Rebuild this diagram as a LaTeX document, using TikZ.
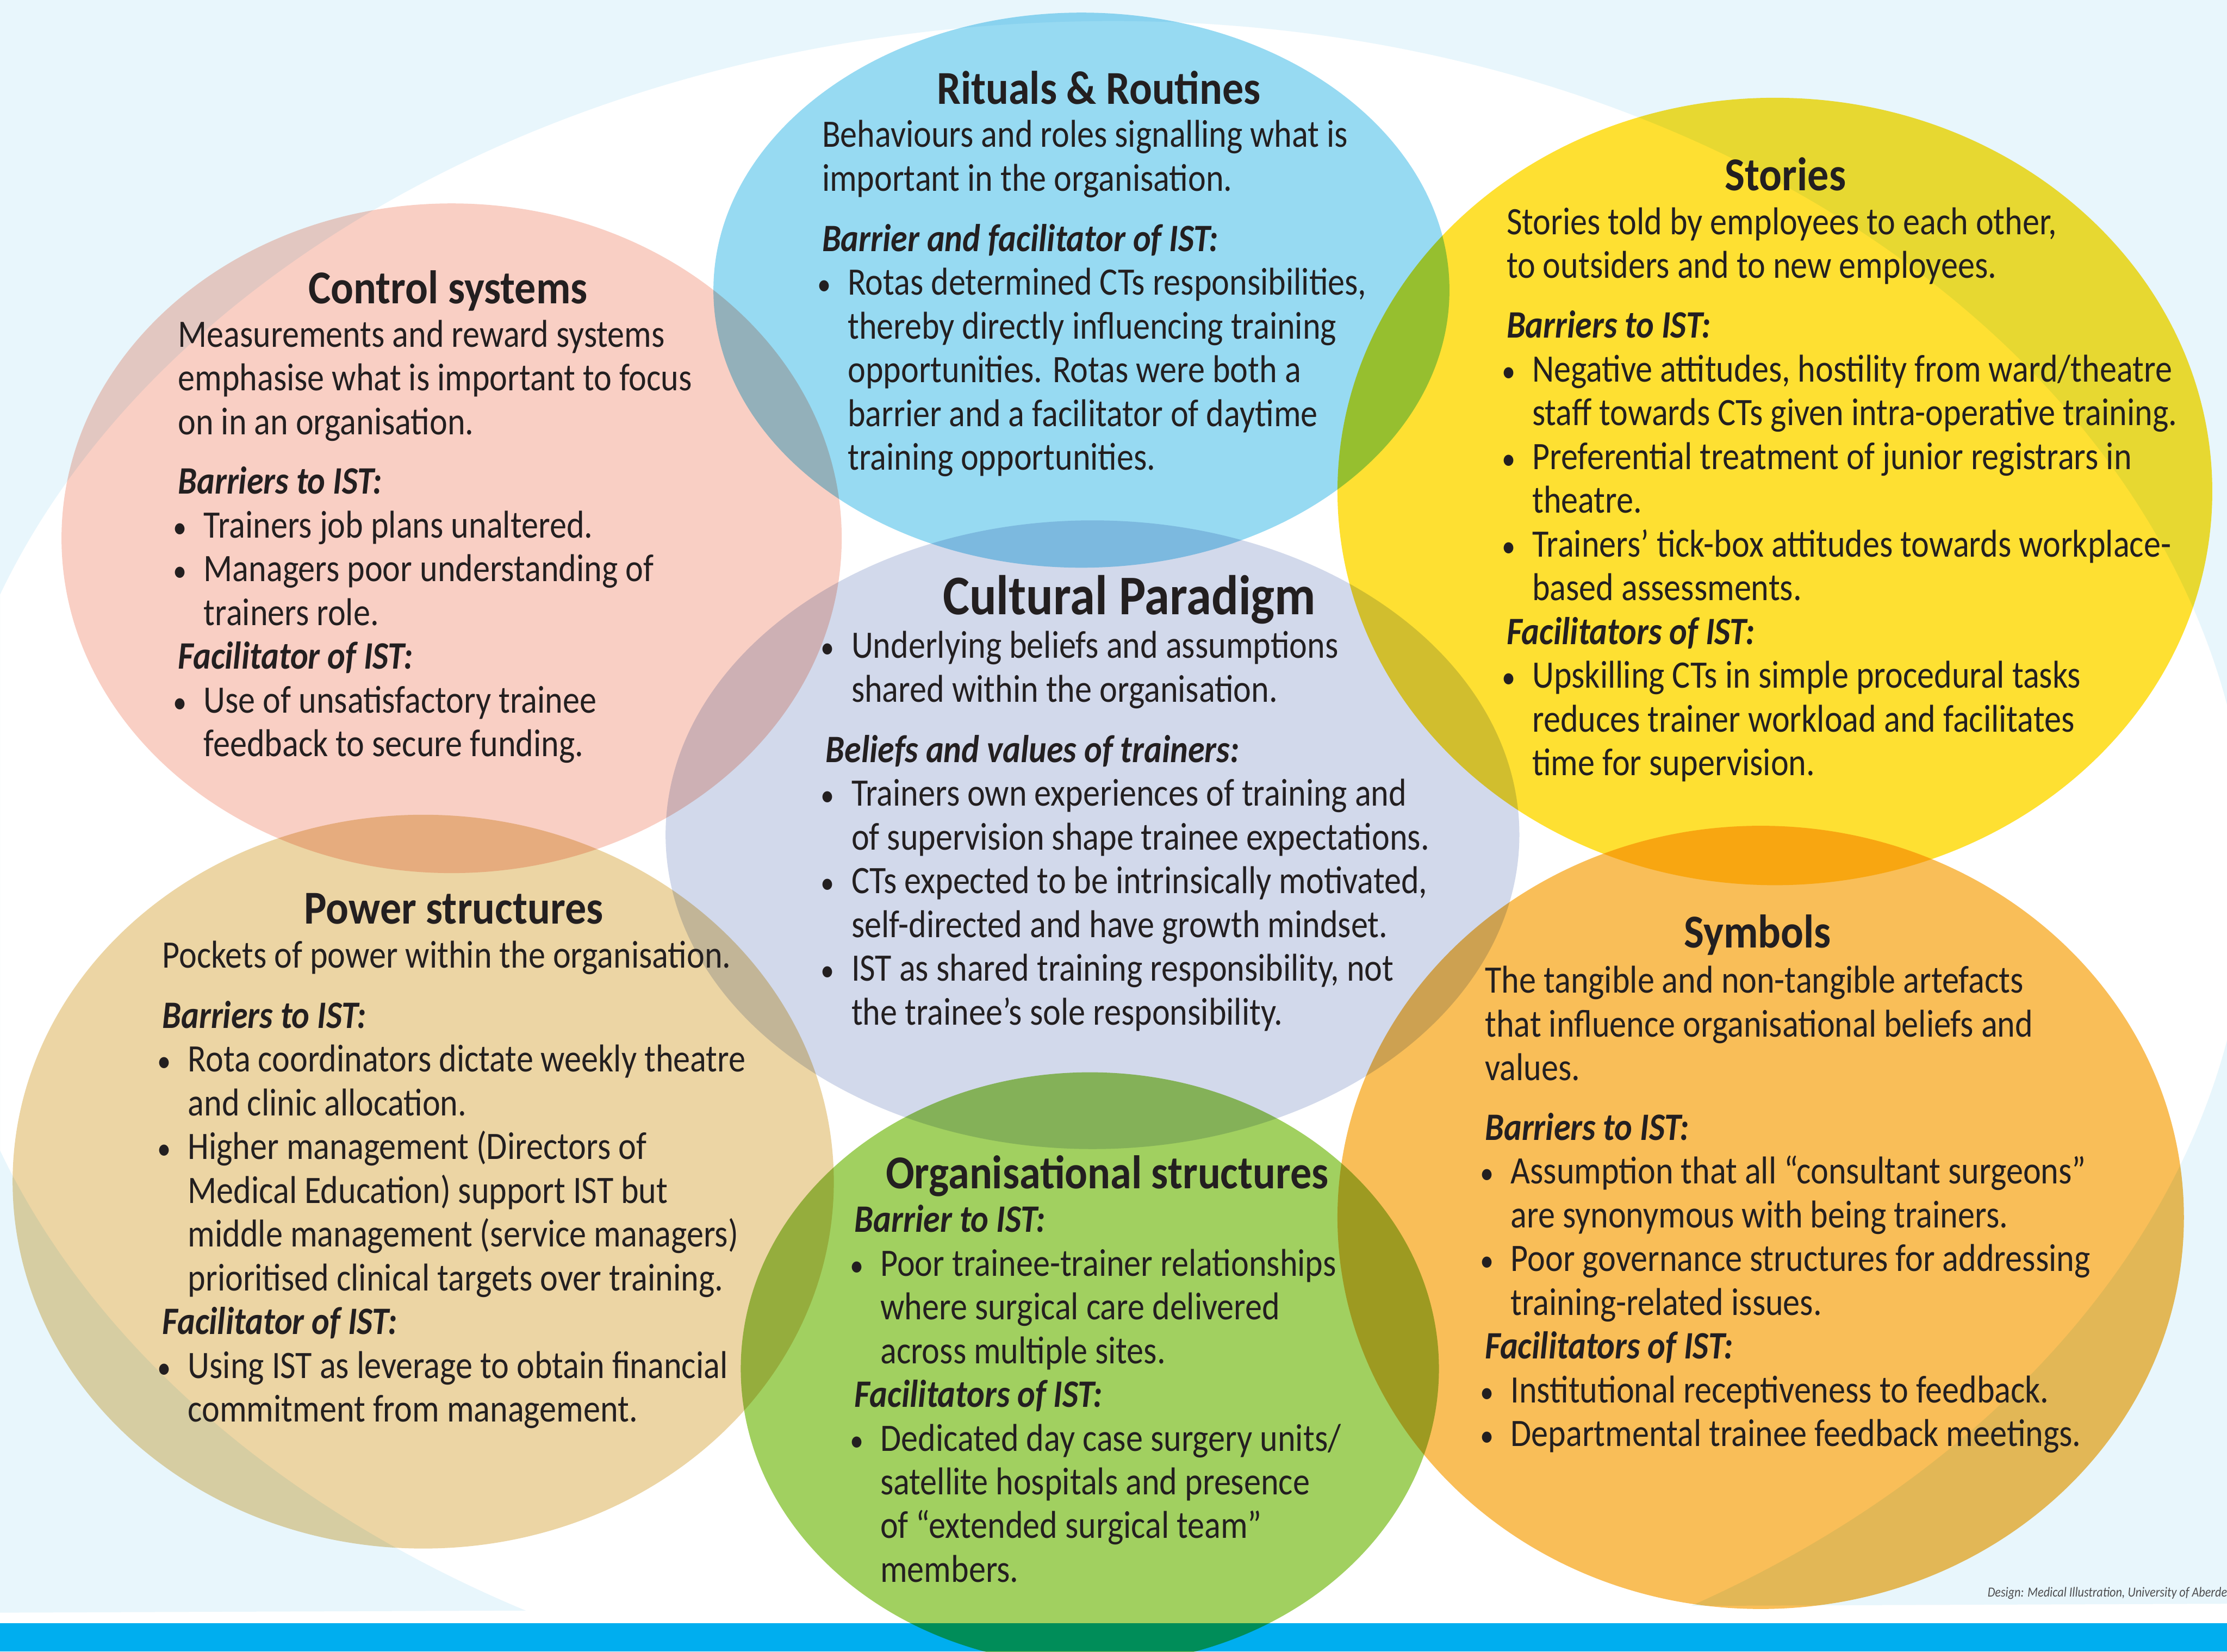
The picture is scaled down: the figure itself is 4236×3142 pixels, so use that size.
\documentclass[tikz,border=0pt]{standalone}
\usepackage{fontspec}
\setmainfont{Carlito}
\newfontfamily\bodyf[FakeStretch=0.87]{Carlito}
\newfontfamily\headf[FakeStretch=0.9]{Carlito}

\definecolor{lightbg}{HTML}{E8F6FC}
\definecolor{barblue}{HTML}{00AEEF}
\definecolor{ink}{HTML}{231F20}
\definecolor{creditgrey}{HTML}{4D4D4F}
\definecolor{pinkc}{HTML}{F9CFC4}
\definecolor{bluec}{HTML}{97DAF2}
\definecolor{lavc}{HTML}{D2D9EB}
\definecolor{yelc}{HTML}{FEE032}
\definecolor{tanc}{HTML}{ECD5A4}
\definecolor{orac}{HTML}{F9BE58}
\definecolor{grnc}{HTML}{A1D060}

% bullet geometry
\newlength\bulw \setlength\bulw{13.9pt}
\newlength\bulo \setlength\bulo{-2.6pt}
\newcommand\bul{\makebox[\bulw][l]{\hspace*{\bulo}{\fontsize{17}{17}\selectfont •}}}
\newcommand\cont{\hspace*{\bulw}}
\newcommand\subh[1]{{\bfseries\itshape #1}}
% stack of left-aligned lines, baseline on the first line
\newcommand\blines[1]{\vtop{\halign{##\hfil\cr#1\crcr}}}

\tikzset{
  body/.style={inner sep=0pt, anchor=base west, text=ink,
    font=\bodyf\fontsize{21}{23.67}\selectfont},
  ttl/.style={inner sep=0pt, anchor=base, text=ink,
    font=\headf\bfseries\fontsize{25.5}{28}\selectfont},
  bigttl/.style={ttl, font=\headf\bfseries\fontsize{30.3}{33}\selectfont},
  credit/.style={inner sep=0pt, anchor=base west, text=creditgrey,
    font=\bodyf\itshape\fontsize{7.5}{8.5}\selectfont}
}

\begin{document}
\begin{tikzpicture}[x=0.01cm, y=-0.01cm]
\useasboundingbox (0,0) rectangle (4236,3142);

% page background
\fill[white] (0,0) rectangle (4236,3142);
\begin{scope}
  \clip (0,0) -- (4236,0) -- (4236,3051) -- (0,3068) -- cycle;
  \fill[lightbg, even odd rule] (0,0) rectangle (4236,3142)
    (2118,40) arc[start angle=-90, end angle=90, x radius=2160, y radius=1620]
              arc[start angle=90, end angle=270, x radius=2240, y radius=1620] -- cycle;
\end{scope}
\fill[barblue] (0,3088) rectangle (4236,3142);

% overlapping elements of the cultural web
\begin{scope}[blend mode=multiply]
  \fill[pinkc] (859,1024) ellipse [x radius=742, y radius=637];
  \fill[bluec] (2057,552) ellipse [x radius=700, y radius=528];
  \fill[yelc]  (3376,935) ellipse [x radius=832, y radius=749];
  \fill[lavc]  (2078,1588) ellipse [x radius=812, y radius=598];
  \fill[tanc]  (805,2248) ellipse [x radius=781, y radius=698];
  \fill[orac]  (3349,2316) ellipse [x radius=805, y radius=745];
  \fill[grnc]  (2073,2604) ellipse [x radius=664, y radius=564];
\end{scope}

% Rituals & Routines
\node[ttl] (rit-t) at (2090,198) {Rituals \& Routines};
\node[body] (rit-d) at (1563,280) {\blines{Behaviours and roles signalling what is\cr
  important in the organisation.}};
\node[body] (rit-l) at (1563,478) {\blines{\subh{Barrier and facilitator of IST:}\cr
  \bul Rotas determined CTs responsibilities,\cr
  \cont thereby directly influencing training\cr
  \cont opportunities. Rotas were both a\cr
  \cont barrier and a facilitator of daytime\cr
  \cont training opportunities.}};

% Control systems
\node[ttl] (ctl-t) at (852,578) {Control systems};
\node[body] (ctl-d) at (338,660) {\blines{Measurements and reward systems\cr
  emphasise what is important to focus\cr
  on in an organisation.}};
\node[body] (ctl-l) at (338,940) {\blines{\subh{Barriers to IST:}\cr
  \bul Trainers job plans unaltered.\cr
  \bul Managers poor understanding of\cr
  \cont trainers role.\cr
  \subh{Facilitator of IST:}\cr
  \bul Use of unsatisfactory trainee\cr
  \cont feedback to secure funding.}};

% Stories
\node[ttl] (sto-t) at (3396,362) {Stories};
\node[body] (sto-d) at (2865,446) {\blines{Stories told by employees to each other,\cr
  to outsiders and to new employees.}};
\node[body] (sto-l) at (2865,643) {\blines{\subh{Barriers to IST:}\cr
  \bul Negative attitudes, hostility from ward/theatre\cr
  \cont staff towards CTs given intra-operative training.\cr
  \bul Preferential treatment of junior registrars in\cr
  \cont theatre.\cr
  \bul Trainers’ tick-box attitudes towards workplace-\cr
  \cont based assessments.\cr
  \subh{Facilitators of IST:}\cr
  \bul Upskilling CTs in simple procedural tasks\cr
  \cont reduces trainer workload and facilitates\cr
  \cont time for supervision.}};

% Cultural Paradigm
\node[bigttl] (cul-t) at (2148,1169) {Cultural Paradigm};
\node[body] (cul-d) at (1570,1252) {\blines{\bul Underlying beliefs and assumptions\cr
  \cont shared within the organisation.}};
\node[body] (cul-l) at (1570,1450) {\blines{\subh{Beliefs and values of trainers:}\cr
  \bul Trainers own experiences of training and\cr
  \cont of supervision shape trainee expectations.\cr
  \bul CTs expected to be intrinsically motivated,\cr
  \cont self-directed and have growth mindset.\cr
  \bul IST as shared training responsibility, not\cr
  \cont the trainee’s sole responsibility.}};

% Power structures
\node[ttl] (pow-t) at (863,1758) {Power structures};
\node[body] (pow-d) at (308,1841) {\blines{Pockets of power within the organisation.}};
\node[body] (pow-l) at (308,1956) {\blines{\subh{Barriers to IST:}\cr
  \bul Rota coordinators dictate weekly theatre\cr
  \cont and clinic allocation.\cr
  \bul Higher management (Directors of\cr
  \cont Medical Education) support IST but\cr
  \cont middle management (service managers)\cr
  \cont prioritised clinical targets over training.\cr
  \subh{Facilitator of IST:}\cr
  \bul Using IST as leverage to obtain financial\cr
  \cont commitment from management.}};

% Organisational structures
\node[ttl] (org-t) at (2106,2261) {Organisational structures};
\node[body] (org-l) at (1625,2344) {\blines{\subh{Barrier to IST:}\cr
  \bul Poor trainee-trainer relationships\cr
  \cont where surgical care delivered\cr
  \cont across multiple sites.\cr
  \subh{Facilitators of IST:}\cr
  \bul Dedicated day case surgery units/\cr
  \cont satellite hospitals and presence\cr
  \cont of “extended surgical team”\cr
  \cont members.}};

% Symbols
\node[ttl] (sym-t) at (3343,1803) {Symbols};
\node[body] (sym-d) at (2824,1889) {\blines{The tangible and non-tangible artefacts\cr
  that influence organisational beliefs and\cr
  values.}};
\node[body] (sym-l) at (2824,2169) {\blines{\subh{Barriers to IST:}\cr
  \bul Assumption that all “consultant surgeons”\cr
  \cont are synonymous with being trainers.\cr
  \bul Poor governance structures for addressing\cr
  \cont training-related issues.\cr
  \subh{Facilitators of IST:}\cr
  \bul Institutional receptiveness to feedback.\cr
  \bul Departmental trainee feedback meetings.}};

% credit line
\node[credit] (credit) at (3780,3038) {Design: Medical Illustration, University of Aberdeen};
\end{tikzpicture}
\end{document}
